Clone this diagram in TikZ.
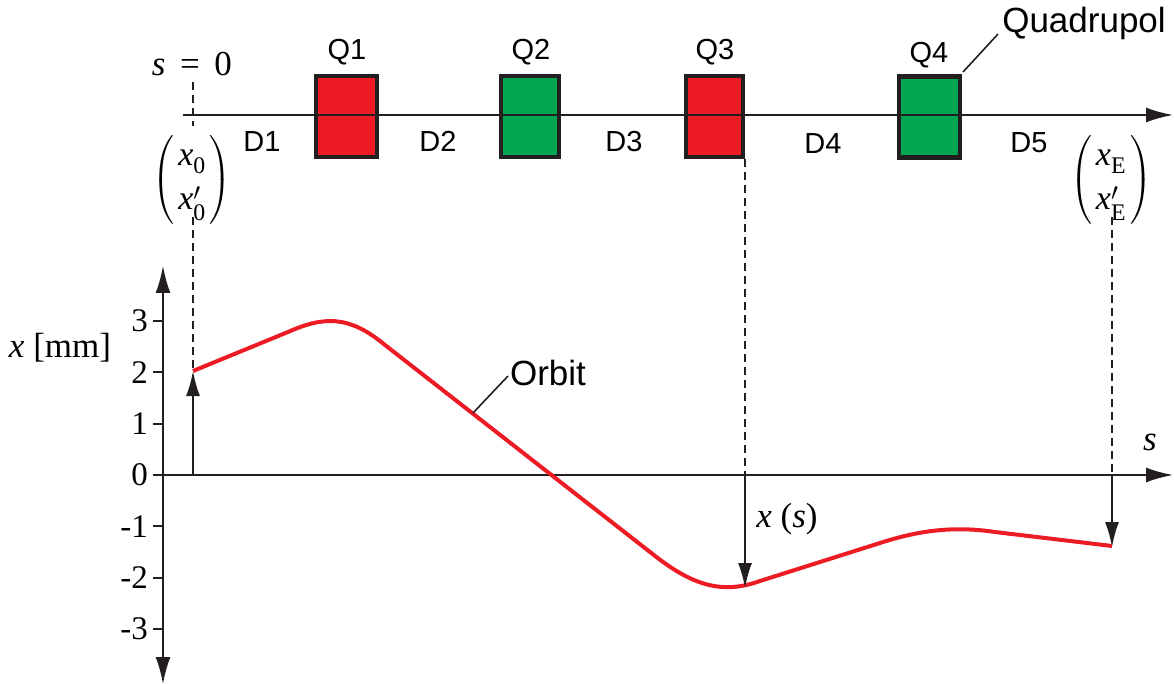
\documentclass[tikz,border=0pt]{standalone}
\usepackage{amsmath}
\usepackage{fontspec}
\setmainfont{Liberation Serif}
\newfontfamily\sansf{Liberation Sans}
\usetikzlibrary{arrows.meta}
\definecolor{qred}{HTML}{ED1C24}
\definecolor{qgreen}{HTML}{00A651}
\definecolor{qdark}{HTML}{231F20}
\tikzset{
  sanslbl/.style={font=\sansf\fontsize{29}{29}\selectfont, inner sep=0pt, anchor=base},
  biglbl/.style={font=\sansf\fontsize{35}{35}\selectfont, inner sep=0pt, anchor=base},
  seriflbl/.style={font=\fontsize{35}{35}\selectfont, inner sep=0pt, anchor=base},
  ticklbl/.style={font=\fontsize{33}{33}\selectfont, inner sep=0pt, anchor=east},
  quad/.style={draw=qdark, line width=4.5pt},
  thinline/.style={draw=qdark, line width=2pt},
  dashline/.style={draw=qdark, line width=1.2pt, dash pattern=on 8pt off 5pt},
  bigtip/.style={-{Latex[length=27pt,width=15pt]}},
  smalltip/.style={-{Latex[length=25pt,width=14pt]}},
  orbitline/.style={draw=qred, line width=4pt, line join=round}
}
\begin{document}
\begin{tikzpicture}[x=1pt,y=-1pt]
\useasboundingbox (0,0) rectangle (1174,684);
% quadrupoles
\node[quad, fill=qred, minimum width=61pt, minimum height=81pt, inner sep=0pt] (Q1) at (346.5,116.5) {};
\node[quad, fill=qgreen, minimum width=58pt, minimum height=81pt, inner sep=0pt] (Q2) at (530,116.5) {};
\node[quad, fill=qred, minimum width=57pt, minimum height=81pt, inner sep=0pt] (Q3) at (714.5,116.5) {};
\node[quad, fill=qgreen, minimum width=61pt, minimum height=81pt, inner sep=0pt] (Q4) at (929.5,117) {};
% beam line
\coordinate (bs) at (183,115);
\coordinate (be) at (1173,115);
\draw[thinline, bigtip] (bs) -- (be);
% labels
\node[sanslbl] (lQ1) at (347,60) {Q1};
\node[sanslbl] (lQ2) at (531,60) {Q2};
\node[sanslbl] (lQ3) at (715,60) {Q3};
\node[sanslbl] (lQ4) at (929,63) {Q4};
\node[biglbl] (lquad) at (1084,33) {Quadrupol};
\coordinate (quadA) at (963,72);
\coordinate (quadB) at (998,34);
\draw[thinline, line width=1.6pt] (quadA) -- (quadB);
\node[sanslbl] (D1) at (262,152) {D1};
\node[sanslbl] (D2) at (438,152) {D2};
\node[sanslbl] (D3) at (624,152) {D3};
\node[sanslbl] (D4) at (823,154) {D4};
\node[sanslbl] (D5) at (1029,153) {D5};
\node[seriflbl] (s0) at (192,76) {\textit{s}\ \,=\ \,0};
% vectors
\node[inner sep=0pt] (m0) at (192,180) {\fontsize{34}{40}\selectfont$\left(\begin{array}{@{\,}c@{\,}}\textit{x}_{\textrm{0}}\\[4pt] \textit{x}'_{\textrm{0}}\end{array}\right)$};
\node[inner sep=0pt] (mE) at (1111,180) {\fontsize{34}{40}\selectfont$\left(\begin{array}{@{\,}c@{\,}}\textit{x}_{\textrm{E}}\\[4pt] \textit{x}'_{\textrm{E}}\end{array}\right)$};
% dashed lines
\coordinate (d0a) at (193,82);
\coordinate (d0b) at (193,126);
\coordinate (d0c) at (193,217);
\coordinate (d0d) at (193,370);
\draw[dashline] (d0a) -- (d0b);
\draw[dashline] (d0c) -- (d0d);
\coordinate (d3a) at (745,159);
\coordinate (d3b) at (745,475);
\draw[dashline] (d3a) -- (d3b);
\coordinate (dEa) at (1112,217);
\coordinate (dEb) at (1112,475);
\draw[dashline] (dEa) -- (dEb);
% axes
\coordinate (vb) at (163,684);
\coordinate (vt) at (163,266);
\coordinate (vc) at (163,475);
\coordinate (he) at (1173,475);
\draw[thinline, bigtip] (vc) -- (vt);
\draw[thinline, bigtip] (vc) -- (vb);
\draw[thinline, bigtip] (vc) -- (he);
\foreach \v/\yy in {3/321,2/372.3,1/423.6,0/475,-1/526.3,-2/577.6,-3/629} {
  \coordinate (t\v) at (163,\yy);
  \coordinate (tl\v) at (153,\yy);
  \draw[thinline] (t\v) -- (tl\v);
  \node[ticklbl] (n\v) at (148,\yy) {\v};
}
\node[seriflbl] (xmm) at (60,357) {\textit{x} [mm]};
\node[seriflbl] (slbl) at (1150,450) {\textit{s}};
\node[seriflbl] (xs) at (787,527) {\textit{x} (\textit{s})};
% orbit
\coordinate (o1) at (193,371);
\coordinate (o2) at (288,332);
\coordinate (o3) at (385,345);
\coordinate (o4) at (650,552);
\coordinate (o5) at (760,581);
\coordinate (o6) at (880,543);
\coordinate (o7) at (995,532);
\coordinate (o8) at (1112,546);
\draw[orbitline] (o1) -- (o2) .. controls (322,317) and (348,314) .. (o3) -- (o4)
  .. controls (691,585) and (721,595) .. (o5) -- (o6)
  .. controls (920,530) and (955,526) .. (o7) -- (o8);
% orbit label
\node[biglbl] (lorb) at (548,385) {Orbit};
\coordinate (orbA) at (473,413);
\coordinate (orbB) at (508,376);
\draw[thinline, line width=1.6pt] (orbA) -- (orbB);
% displacement arrows
\coordinate (a0s) at (193,475);
\coordinate (a0e) at (193,371);
\coordinate (a3s) at (745,475);
\coordinate (a3e) at (745,588);
\coordinate (aEs) at (1112,475);
\coordinate (aEe) at (1112,547);
\draw[thinline, smalltip] (a0s) -- (a0e);
\draw[thinline, smalltip] (a3s) -- (a3e);
\draw[thinline, smalltip] (aEs) -- (aEe);
\end{tikzpicture}
\end{document}
